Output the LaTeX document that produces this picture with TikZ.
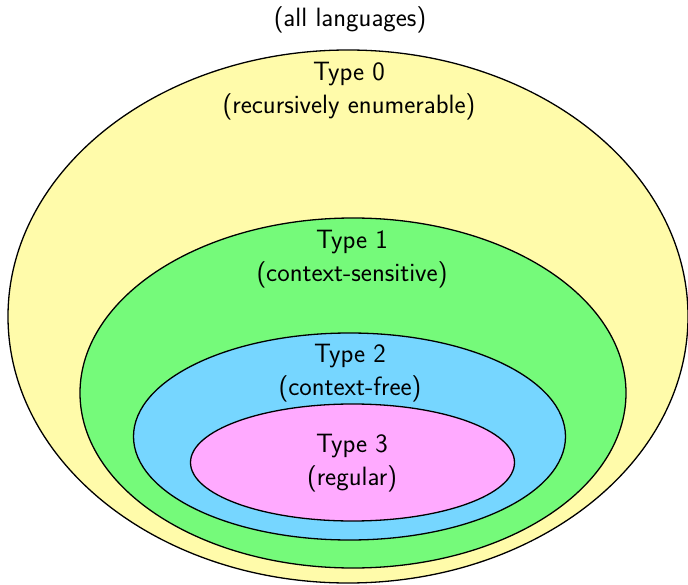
\documentclass[tikz,border=0pt]{standalone}
\usepackage{fontspec}
\begin{document}
\begin{tikzpicture}[x=1pt,y=-1pt,
  set/.style={draw=black,line width=1.3pt},
  lbl/.style={align=center,font=\fontsize{26.5}{33}\selectfont\sffamily,inner sep=0pt}]
\definecolor{cyel}{RGB}{255,251,170}
\definecolor{cgrn}{RGB}{117,250,122}
\definecolor{cblu}{RGB}{118,214,255}
\definecolor{cpnk}{RGB}{255,170,255}
\useasboundingbox (0,0) rectangle (688,585);
\fill[white] (0,0) rectangle (688,585);
\path[set,fill=cyel] (348,316.5) ellipse [x radius=340,y radius=266.5];
\path[set,fill=cgrn] (353,393) ellipse [x radius=273,y radius=175];
\path[set,fill=cblu] (349.5,436.5) ellipse [x radius=216,y radius=103.5];
\path[set,fill=cpnk] (352.5,462.5) ellipse [x radius=162,y radius=58.5];
\node[lbl] (all) at (350,20) {(all languages)};
\node[lbl] (t0) at (349,91) {Type 0\\(recursively enumerable)};
\node[lbl] (t1) at (352,259) {Type 1\\(context-sensitive)};
\node[lbl] (t2) at (350,373) {Type 2\\(context-free)};
\node[lbl] (t3) at (352,463.5) {Type 3\\(regular)};
\end{tikzpicture}
\end{document}
